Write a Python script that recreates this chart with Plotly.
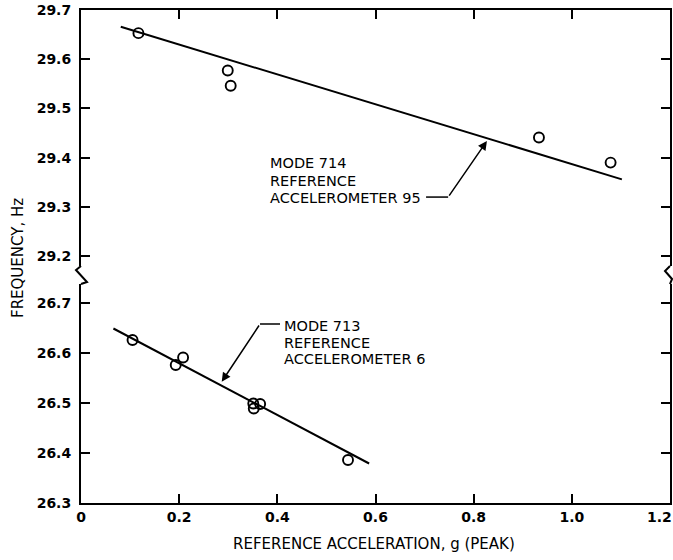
import plotly.graph_objects as go
from plotly.subplots import make_subplots

# ---- data ----
mode714_x = [0.117, 0.299, 0.305, 0.933, 1.079]
mode714_y = [29.653, 29.577, 29.546, 29.441, 29.390]
mode714_fit_x = [0.081, 1.102]
mode714_fit_y = [29.666, 29.356]

mode713_x = [0.105, 0.193, 0.208, 0.351, 0.352, 0.365, 0.544]
mode713_y = [26.626, 26.576, 26.591, 26.499, 26.489, 26.498, 26.386]
mode713_fit_x = [0.066, 0.587]
mode713_fit_y = [26.649, 26.379]

x_ticks = [0, 0.2, 0.4, 0.6, 0.8, 1.0, 1.2]
x_ticktext = ["0", "0.2", "0.4", "0.6", "0.8", "1.0", ""]
last_x_label = "1.2"  # drawn flush against the right edge, as in the reference
upper_ticks = [29.2, 29.3, 29.4, 29.5, 29.6, 29.7]
lower_ticks = [26.3, 26.4, 26.5, 26.6, 26.7]

label714 = ["MODE 714", "REFERENCE", "ACCELEROMETER 95"]
label713 = ["MODE 713", "REFERENCE", "ACCELEROMETER 6"]

# ---- layout geometry ----
W, H = 673, 560
L, R, T, B = 81, 3, 10, 57
PW, PH = W - L - R, H - T - B
BOT = H - B  # pixel y of bottom axis


def px(xp):
    return (xp - L) / PW


def py(yp):
    return (BOT - yp) / PH


UP_DOM = [py(266), 1.0]
LO_DOM = [0.0, py(284)]
UP_RANGE = [29.7 - (266 - T) / 492.3, 29.7]
LO_RANGE = [26.3, 26.3 + (BOT - 284) / 500.0]

fig = make_subplots(rows=2, cols=1, shared_xaxes=True, vertical_spacing=0.0)

mk = dict(symbol="circle-open", size=10, color="black", line=dict(width=1.9, color="black"))
fig.add_trace(go.Scatter(x=mode714_fit_x, y=mode714_fit_y, mode="lines",
                         line=dict(color="black", width=2), showlegend=False), row=1, col=1)
fig.add_trace(go.Scatter(x=mode714_x, y=mode714_y, mode="markers", marker=mk,
                         showlegend=False), row=1, col=1)
fig.add_trace(go.Scatter(x=mode713_fit_x, y=mode713_fit_y, mode="lines",
                         line=dict(color="black", width=2), showlegend=False), row=2, col=1)
fig.add_trace(go.Scatter(x=mode713_x, y=mode713_y, mode="markers", marker=mk,
                         showlegend=False), row=2, col=1)

tickfont = dict(family="DejaVu Sans", size=14, color="black", weight="bold")
common_x = dict(range=[0, 1.2], showgrid=False, zeroline=False, showline=True,
                linecolor="black", linewidth=2, ticks="inside", ticklen=9,
                tickwidth=1.5, tickcolor="black", tickvals=x_ticks, automargin=False)
fig.update_xaxes(**common_x, side="top", showticklabels=False, row=1, col=1)
fig.update_xaxes(**common_x, side="bottom", showticklabels=True,
                 ticktext=x_ticktext, tickfont=tickfont, row=2, col=1)

common_y = dict(showgrid=False, zeroline=False, showline=True, mirror="ticks",
                linecolor="black", linewidth=2, ticks="inside", ticklen=9,
                tickwidth=1.5, tickcolor="black", tickformat=".1f",
                tickfont=tickfont, ticklabelstandoff=5, automargin=False)
fig.update_yaxes(**common_y, range=UP_RANGE, domain=UP_DOM, tickvals=upper_ticks, row=1, col=1)
fig.update_yaxes(**common_y, range=LO_RANGE, domain=LO_DOM, tickvals=lower_ticks, row=2, col=1)

# last x tick label, right-aligned at the page edge
fig.add_annotation(x=x_ticks[-1], y=py(517), xref="x2", yref="paper", text=last_x_label,
                   showarrow=False, xanchor="right", yanchor="middle", xshift=3,
                   font=tickfont, borderpad=0)

# axis break zig-zags
left_zz = [(81, 266), (76, 270), (87, 282), (81, 284)]
right_zz = [(670, 266), (665, 271), (672, 279), (670, 284)]
for pts in (left_zz, right_zz):
    path = "M " + " L ".join(f"{px(a):.4f},{py(b):.4f}" for a, b in pts)
    fig.add_shape(type="path", path=path, xref="paper", yref="paper",
                  line=dict(color="black", width=2))

txtfont = dict(family="DejaVu Sans", size=14.5, color="black")

# labels for the fitted lines
for cy, t in zip([163, 181, 198], label714):
    fig.add_annotation(x=(269 - L) / 490.8, y=29.7 - (cy - T) / 492.3, xref="x", yref="y",
                       text=t, showarrow=False, xanchor="left", yanchor="middle",
                       font=txtfont, borderpad=0)
for cy, t in zip([326, 342.5, 359], label713):
    fig.add_annotation(x=(283 - L) / 490.8, y=26.3 + (BOT - cy) / 500.0, xref="x2", yref="y2",
                       text=t, showarrow=False, xanchor="left", yanchor="middle",
                       font=txtfont, borderpad=0)

# leader lines with arrows
fig.add_shape(type="line", xref="x", yref="y", x0=0.703, x1=0.748, y0=29.320, y1=29.320,
              line=dict(color="black", width=1.5))
fig.add_annotation(x=0.827, y=29.434, ax=0.748, ay=29.320, xref="x", yref="y",
                   axref="x", ayref="y", text="", showarrow=True, arrowhead=2,
                   arrowsize=1.2, arrowwidth=1.5, arrowcolor="black")
fig.add_shape(type="line", xref="x2", yref="y2", x0=0.3647, x1=0.4055, y0=26.658, y1=26.658,
              line=dict(color="black", width=1.5))
fig.add_annotation(x=0.2867, y=26.5426, ax=0.3647, ay=26.658, xref="x2", yref="y2",
                   axref="x2", ayref="y2", text="", showarrow=True, arrowhead=2,
                   arrowsize=1.2, arrowwidth=1.5, arrowcolor="black")

# axis titles
titlefont = dict(family="DejaVu Sans", size=15, color="black")
fig.add_annotation(x=px(18), y=py(258), xref="paper", yref="paper",
                   text="FREQUENCY, Hz", textangle=-90, showarrow=False,
                   xanchor="center", yanchor="middle", font=titlefont)
fig.add_annotation(x=px(374), y=py(544), xref="paper", yref="paper",
                   text="REFERENCE ACCELERATION, g (PEAK)", showarrow=False,
                   xanchor="center", yanchor="middle", font=titlefont)

fig.update_layout(width=W, height=H, margin=dict(l=L, r=R, t=T, b=B, autoexpand=False),
                  plot_bgcolor="white", paper_bgcolor="white")

fig.write_html("out.html")
